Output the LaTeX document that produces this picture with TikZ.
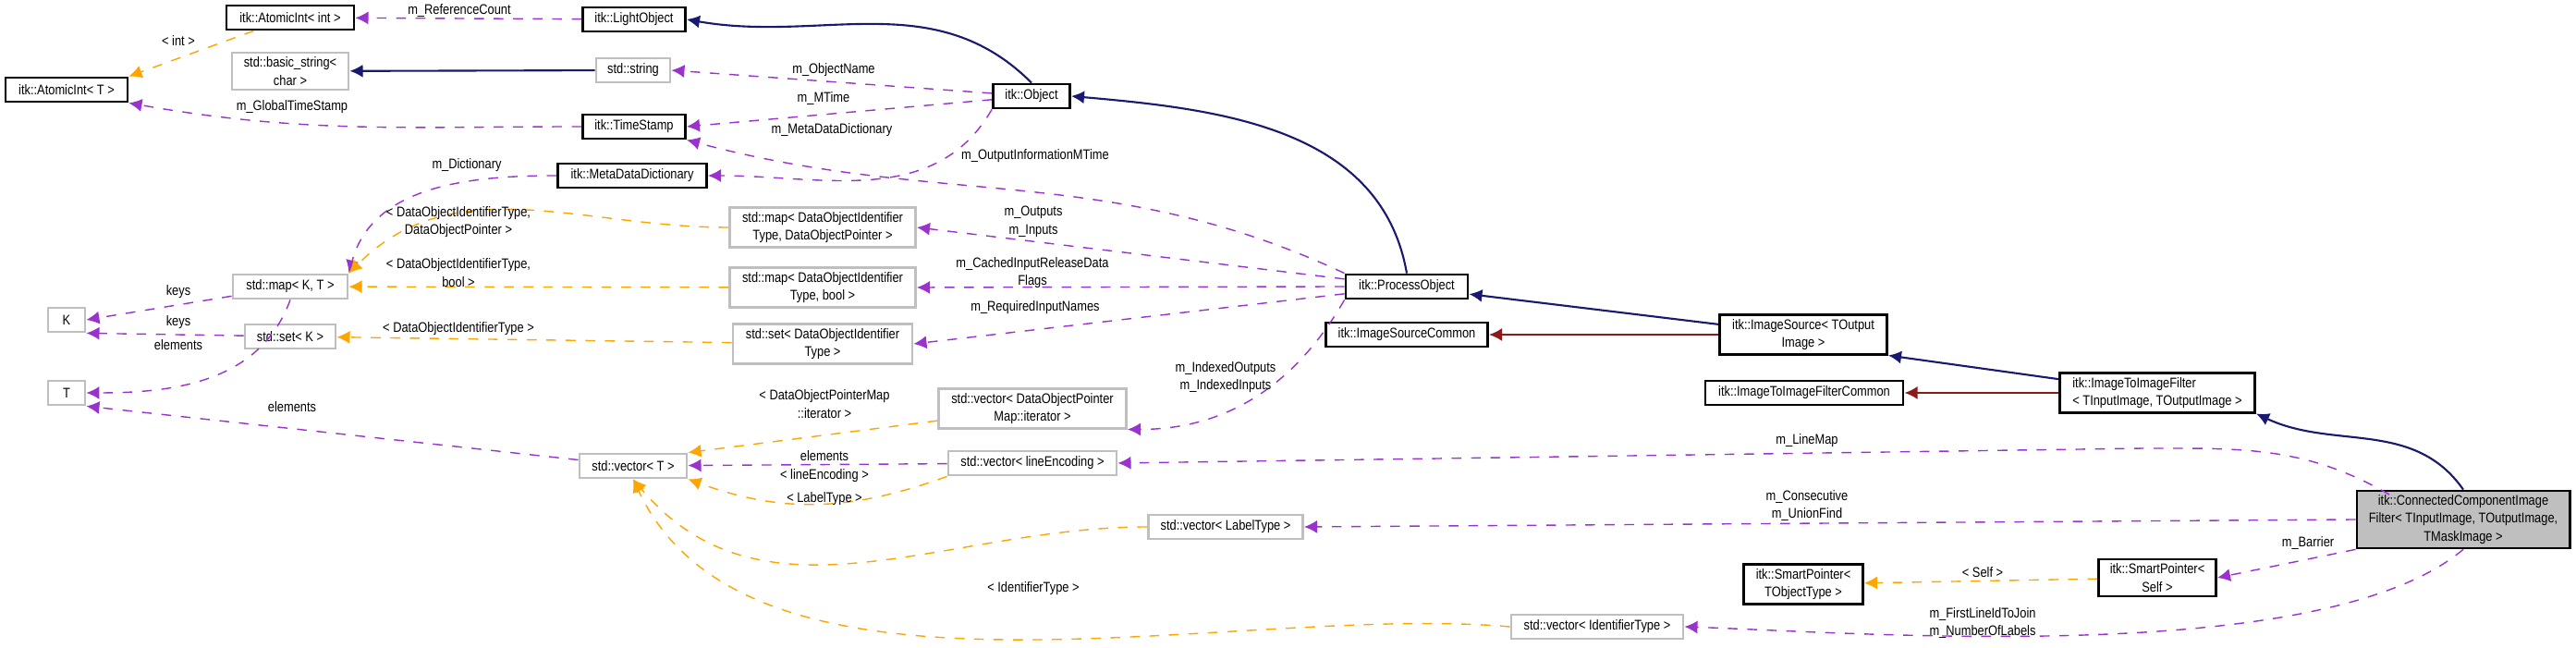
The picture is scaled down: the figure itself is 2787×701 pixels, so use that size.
\documentclass[tikz,border=0pt]{standalone}
\usepackage{fontspec}
\setmainfont{Liberation Sans}[FakeStretch=0.85]
\usetikzlibrary{arrows.meta}
\definecolor{mypurple}{HTML}{9A32CD}
\definecolor{myorange}{HTML}{FFA500}
\definecolor{mynavy}{HTML}{191970}
\definecolor{myred}{HTML}{8B1A1A}
\begin{document}
\begin{tikzpicture}[x=0.01cm,y=-0.01cm,font=\fontsize{4.3}{5.6}\selectfont]
\tikzstyle{cls}=[rectangle, draw=black, thick, fill=white, align=center, inner sep=1.2pt, minimum height=0.26cm]
\tikzstyle{ext}=[cls, draw=black!25]
\tikzstyle{member}=[-{Latex[length=4pt,width=4pt]}, mypurple, dashed, thin]
\tikzstyle{tmpl}=[-{Latex[length=4pt,width=4pt]}, myorange, dashed, thin]
\tikzstyle{inherit}=[-{Latex[length=4pt,width=4pt]}, mynavy, semithick]
\tikzstyle{impl}=[-{Latex[length=4pt,width=4pt]}, myred, semithick]
\tikzstyle{lbl}=[inner sep=0pt, align=center]
\useasboundingbox (0,0) rectangle (2787,701);

%% itk base classes
  \node[cls, minimum width=1.38cm] (atom_int) at (314,19) {itk::AtomicInt\textless{} int \textgreater};
  \node[cls, minimum width=1.11cm] (light) at (686,21) {itk::LightObject};
  \node[cls, minimum width=1.32cm] (atom_t) at (72,97) {itk::AtomicInt\textless{} T \textgreater};
  \node[ext, minimum width=1.26cm, minimum height=0.40cm] (bstring) at (314,77) {std::basic\_string\textless\\char \textgreater};
  \node[ext, minimum width=0.80cm] (string) at (685,76) {std::string};
  \node[cls, minimum width=0.83cm] (object) at (1116,104) {itk::Object};
  \node[cls, minimum width=1.11cm] (stamp) at (686,137) {itk::TimeStamp};
  \node[cls, minimum width=1.61cm] (mdd) at (684,190) {itk::MetaDataDictionary};

%% std containers
  \node[ext, minimum width=2.01cm, minimum height=0.41cm] (map_ptr) at (890,246) {std::map\textless{} DataObjectIdentifier\\Type, DataObjectPointer \textgreater};
  \node[ext, minimum width=1.24cm] (map_kt) at (314,310) {std::map\textless{} K, T \textgreater};
  \node[ext, minimum width=2.01cm, minimum height=0.40cm] (map_bool) at (890,311) {std::map\textless{} DataObjectIdentifier\\Type, bool \textgreater};
  \node[ext, minimum width=0.40cm] (K) at (72,346) {K};
  \node[ext, minimum width=0.98cm] (set_k) at (314,364) {std::set\textless{} K \textgreater};
  \node[ext, minimum width=1.94cm, minimum height=0.40cm] (set_id) at (890,372) {std::set\textless{} DataObjectIdentifier\\Type \textgreater};
  \node[ext, minimum width=0.40cm] (T) at (72,425) {T};
  \node[ext, minimum width=1.16cm] (vec_t) at (685,504) {std::vector\textless{} T \textgreater};
  \node[ext, minimum width=2.03cm, minimum height=0.40cm] (vec_iter) at (1117,442) {std::vector\textless{} DataObjectPointer\\Map::iterator \textgreater};
  \node[ext, minimum width=1.82cm] (vec_line) at (1117,501) {std::vector\textless{} lineEncoding \textgreater};
  \node[ext, minimum width=1.67cm] (vec_label) at (1326,570) {std::vector\textless{} LabelType \textgreater};
  \node[ext, minimum width=1.86cm] (vec_id) at (1728,678) {std::vector\textless{} IdentifierType \textgreater};

%% filter pipeline
  \node[cls, minimum width=1.32cm] (process) at (1522,310) {itk::ProcessObject};
  \node[cls, minimum width=1.75cm] (src_common) at (1522,362) {itk::ImageSourceCommon};
  \node[cls, minimum width=1.81cm, minimum height=0.41cm] (source) at (1951,362) {itk::ImageSource\textless{} TOutput\\Image \textgreater};
  \node[cls, minimum width=2.14cm] (filt_common) at (1952,425) {itk::ImageToImageFilterCommon};
  \node[cls, minimum width=2.11cm, minimum height=0.40cm, align=left] (filter) at (2334,425) {itk::ImageToImageFilter\\\textless{} TInputImage, TOutputImage \textgreater};
  \node[cls, fill=black!25, minimum width=2.30cm, minimum height=0.55cm] (ccif) at (2665,562) {itk::ConnectedComponentImage\\Filter\textless{} TInputImage, TOutputImage,\\TMaskImage \textgreater};
  \node[cls, minimum width=1.29cm, minimum height=0.40cm] (sp_obj) at (1951,632) {itk::SmartPointer\textless\\TObjectType \textgreater};
  \node[cls, minimum width=1.27cm, minimum height=0.40cm] (sp_self) at (2334,625) {itk::SmartPointer\textless\\Self \textgreater};
  \coordinate (linemap_bend) at (2320,485);

  % inheritance
  \path (object.north) edge[inherit, out=135, in=-10] (light.east)
        (string) edge[inherit] (bstring)
        (process.north) edge[inherit, out=100, in=-5] (object.east)
        (source) edge[inherit] (process)
        (filter) edge[inherit] (source.south east)
        (ccif.north) edge[inherit, out=125, in=-25] (filter.south east)
        (source) edge[impl] (src_common)
        (filter) edge[impl] (filt_common);

  % members
  \path (light) edge[member] (atom_int)
        (object) edge[member] (string.east)
        (object) edge[member] (stamp.east)
        (object.south west) edge[member, out=-120, in=0] (mdd.east)
        (stamp.west) edge[member, out=180, in=-10] (atom_t.south east)
        (process.north west) edge[member, out=155, in=-15] (stamp.south east)
        (mdd.west) edge[member, out=180, in=75] (map_kt.north east)
        (process) edge[member] (map_ptr.east)
        (process.west) edge[member] (map_bool.east)
        (process) edge[member] (set_id.east)
        (process.south west) edge[member, out=-120, in=0] (vec_iter.south east)
        (map_kt) edge[member] (K.east)
        (set_k) edge[member] (K.south east)
        (map_kt.south) edge[member, out=-110, in=0] (T.east)
        (vec_t) edge[member] (T.south east)
        (vec_line) edge[member] (vec_t)
        (ccif.west) edge[member] (vec_label.east)
        (ccif.south west) edge[member] (sp_self.east)
        (ccif.south) edge[member, out=-140, in=-2, looseness=0.6] (vec_id.east);
  \draw[member] (2585,535) to[out=150, in=0] (linemap_bend) -- (vec_line.east);

  % template arguments
  \path (atom_int) edge[tmpl] (atom_t.north east)
        (map_ptr.west) edge[tmpl, out=180, in=45] (map_kt.north east)
        (map_bool) edge[tmpl] (map_kt)
        (set_id) edge[tmpl] (set_k)
        (vec_iter) edge[tmpl] (vec_t.north east)
        (vec_line.south west) edge[tmpl, out=-160, in=-20] (vec_t.south east)
        (vec_label.west) edge[tmpl, out=180, in=-50] (vec_t.south)
        (vec_id.west) edge[tmpl, out=175, in=-65, looseness=0.8] (vec_t.south)
        (sp_self) edge[tmpl] (sp_obj);

  % edge labels
  \node[lbl] (l_ref) at (497,12) {m\_ReferenceCount};
  \node[lbl] (l_name) at (902,76) {m\_ObjectName};
  \node[lbl] (l_mtime) at (891,107) {m\_MTime};
  \node[lbl] (l_mdd) at (900,141) {m\_MetaDataDictionary};
  \node[lbl] (l_global) at (316,116) {m\_GlobalTimeStamp};
  \node[lbl] (l_outinfo) at (1120,169) {m\_OutputInformationMTime};
  \node[lbl] (l_dict) at (505,179) {m\_Dictionary};
  \node[lbl] (l_outputs) at (1118,240) {m\_Outputs\\m\_Inputs};
  \node[lbl] (l_cached) at (1117,295) {m\_CachedInputReleaseData\\Flags};
  \node[lbl] (l_req) at (1120,333) {m\_RequiredInputNames};
  \node[lbl] (l_indexed) at (1326,408) {m\_IndexedOutputs\\m\_IndexedInputs};
  \node[lbl] (l_keys1) at (193,316) {keys};
  \node[lbl] (l_keys2) at (193,349) {keys};
  \node[lbl] (l_elem1) at (193,373) {elements};
  \node[lbl] (l_elem2) at (316,440) {elements};
  \node[lbl] (l_elem3) at (892,493) {elements};
  \node[lbl] (l_linemap) at (1955,477) {m\_LineMap};
  \node[lbl] (l_consec) at (1955,547) {m\_Consecutive\\m\_UnionFind};
  \node[lbl] (l_barrier) at (2497,588) {m\_Barrier};
  \node[lbl] (l_first) at (2145,674) {m\_FirstLineIdToJoin\\m\_NumberOfLabels};
  \node[lbl] (t_int) at (193,44) {\textless{} int \textgreater};
  \node[lbl] (t_ptr) at (496,240) {\textless{} DataObjectIdentifierType,\\DataObjectPointer \textgreater};
  \node[lbl] (t_bool) at (496,295) {\textless{} DataObjectIdentifierType,\\bool \textgreater};
  \node[lbl] (t_set) at (496,356) {\textless{} DataObjectIdentifierType \textgreater};
  \node[lbl] (t_iter) at (892,437) {\textless{} DataObjectPointerMap\\::iterator \textgreater};
  \node[lbl] (t_line) at (892,515) {\textless{} lineEncoding \textgreater};
  \node[lbl] (t_label) at (892,540) {\textless{} LabelType \textgreater};
  \node[lbl] (t_id) at (1118,637) {\textless{} IdentifierType \textgreater};
  \node[lbl] (t_self) at (2145,619) {\textless{} Self \textgreater};
\end{tikzpicture}
\end{document}
